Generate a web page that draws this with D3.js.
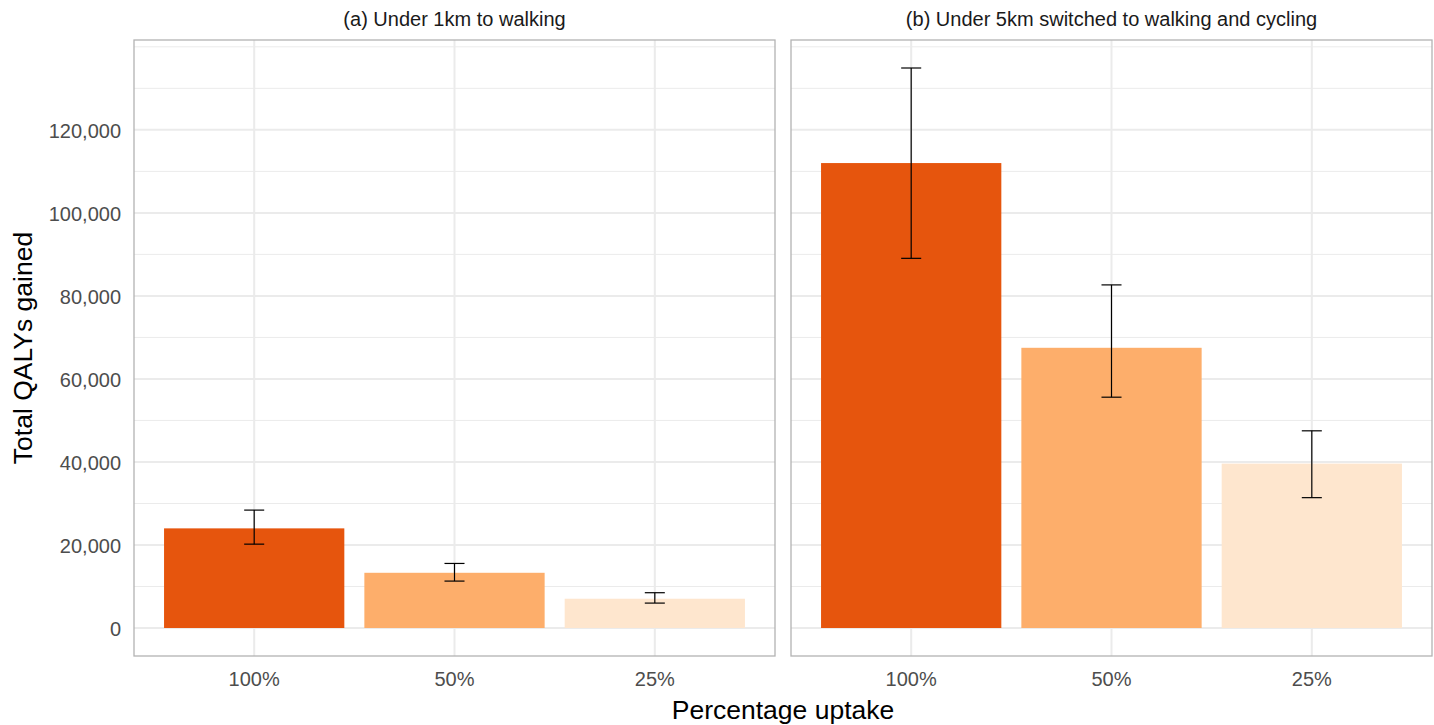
<!DOCTYPE html>
<html>
<head>
<meta charset="utf-8">
<script src="https://cdn.jsdelivr.net/npm/d3@7"></script>
<style>
  html, body { margin: 0; padding: 0; background: #fff; }
  svg { display: block; font-family: "Liberation Sans", Arial, sans-serif; }
</style>
</head>
<body>
<svg id="chart" width="1434" height="725"></svg>
<script>
// Uptake levels shown on the x axis of each panel
const uptake = ["100%", "50%", "25%"];
const panelTitles = ["(a) Under 1km to walking", "(b) Under 5km switched to walking and cycling"];

// Total QALYs gained (point estimate) with lower / upper uncertainty bounds
const walk1kmValue = [24000, 13300, 7050];
const walk1kmLower = [20200, 11300, 6000];
const walk1kmUpper = [28400, 15550, 8500];

const walkCycle5kmValue = [112000, 67500, 39600];
const walkCycle5kmLower = [89050, 55600, 31400];
const walkCycle5kmUpper = [134900, 82650, 47500];

const yTicks = [0, 20000, 40000, 60000, 80000, 100000, 120000];
const yMinor = [10000, 30000, 50000, 70000, 90000, 110000, 130000, 140000];
const fillColours = ["#E6550D", "#FDAE6B", "#FEE6CE"];

const panels = [
  { title: panelTitles[0], value: walk1kmValue, lower: walk1kmLower, upper: walk1kmUpper },
  { title: panelTitles[1], value: walkCycle5kmValue, lower: walkCycle5kmLower, upper: walkCycle5kmUpper }
];

const svg = d3.select("#chart");
const plotTop = 40, plotBottom = 656;
const panelLeft = [134, 791];
const panelWidth = 641;

// Shared y scale with 5% padding around the data range
const yMaxData = d3.max([...walk1kmUpper, ...walkCycle5kmUpper]);
const pad = yMaxData * 0.05;
const y = d3.scaleLinear().domain([-pad, yMaxData + pad]).range([plotBottom, plotTop]);

const colour = d3.scaleOrdinal().domain(uptake).range(fillColours);

panels.forEach((p, i) => {
  const x0 = panelLeft[i];
  const x = d3.scaleBand().domain(uptake)
    .range([x0, x0 + panelWidth]).paddingInner(0.1).paddingOuter(0.15);
  const xc = d => x(d) + x.bandwidth() / 2;
  const step = x.step();
  const g = svg.append("g");

  // minor grid
  g.selectAll("line.minor").data(yMinor).join("line")
    .attr("x1", x0).attr("x2", x0 + panelWidth)
    .attr("y1", d => y(d)).attr("y2", d => y(d))
    .attr("stroke", "#ebebeb").attr("stroke-width", 1);
  // major grid
  g.selectAll("line.major").data(yTicks).join("line")
    .attr("x1", x0).attr("x2", x0 + panelWidth)
    .attr("y1", d => y(d)).attr("y2", d => y(d))
    .attr("stroke", "#ebebeb").attr("stroke-width", 2);
  g.selectAll("line.vmajor").data(uptake).join("line")
    .attr("x1", d => xc(d)).attr("x2", d => xc(d))
    .attr("y1", plotTop).attr("y2", plotBottom)
    .attr("stroke", "#ebebeb").attr("stroke-width", 2);

  // bars
  g.selectAll("rect.bar").data(uptake).join("rect")
    .attr("x", d => x(d))
    .attr("width", x.bandwidth())
    .attr("y", (d, j) => y(p.value[j]))
    .attr("height", (d, j) => y(0) - y(p.value[j]))
    .attr("fill", d => colour(d));

  // error bars
  const cap = step * 0.05;
  uptake.forEach((d, j) => {
    const cx = xc(d);
    g.append("line").attr("x1", cx).attr("x2", cx)
      .attr("y1", y(p.lower[j])).attr("y2", y(p.upper[j]))
      .attr("stroke", "#000").attr("stroke-width", 1.2);
    [p.lower[j], p.upper[j]].forEach(v => {
      g.append("line").attr("x1", cx - cap).attr("x2", cx + cap)
        .attr("y1", y(v)).attr("y2", y(v))
        .attr("stroke", "#000").attr("stroke-width", 1.2);
    });
  });

  // panel border
  g.append("rect").attr("x", x0).attr("y", plotTop)
    .attr("width", panelWidth).attr("height", plotBottom - plotTop)
    .attr("fill", "none").attr("stroke", "#b3b3b3").attr("stroke-width", 1.3);

  // strip title
  g.append("text").attr("x", x0 + panelWidth / 2).attr("y", 26)
    .attr("text-anchor", "middle").attr("font-size", 20).attr("fill", "#1a1a1a")
    .text(p.title);

  // x axis labels
  const xAxis = d3.axisBottom(x).tickSize(0).tickPadding(0);
  const ax = svg.append("g").attr("transform", `translate(0,686)`).call(xAxis);
  ax.select(".domain").remove();
  ax.selectAll("text").attr("font-size", 20).attr("fill", "#4d4d4d")
    .attr("font-family", "Liberation Sans, Arial, sans-serif").attr("dy", 0);

  if (i === 0) {
    const yAxis = d3.axisLeft(y).tickValues(yTicks).tickSize(0).tickPadding(0)
      .tickFormat(d3.format(","));
    const ay = svg.append("g").attr("transform", `translate(${x0 - 13},0)`).call(yAxis);
    ay.select(".domain").remove();
    ay.selectAll("text").attr("font-size", 20).attr("fill", "#4d4d4d")
      .attr("font-family", "Liberation Sans, Arial, sans-serif").attr("dy", "0.36em");
  }
});

// axis titles
svg.append("text").attr("x", (134 + 1432) / 2).attr("y", 719)
  .attr("text-anchor", "middle").attr("font-size", 26.5).attr("fill", "#000")
  .text("Percentage uptake");
svg.append("text").attr("transform", `translate(32,${(plotTop + plotBottom) / 2}) rotate(-90)`)
  .attr("text-anchor", "middle").attr("font-size", 26.5).attr("fill", "#000")
  .text("Total QALYs gained");
</script>
</body>
</html>
